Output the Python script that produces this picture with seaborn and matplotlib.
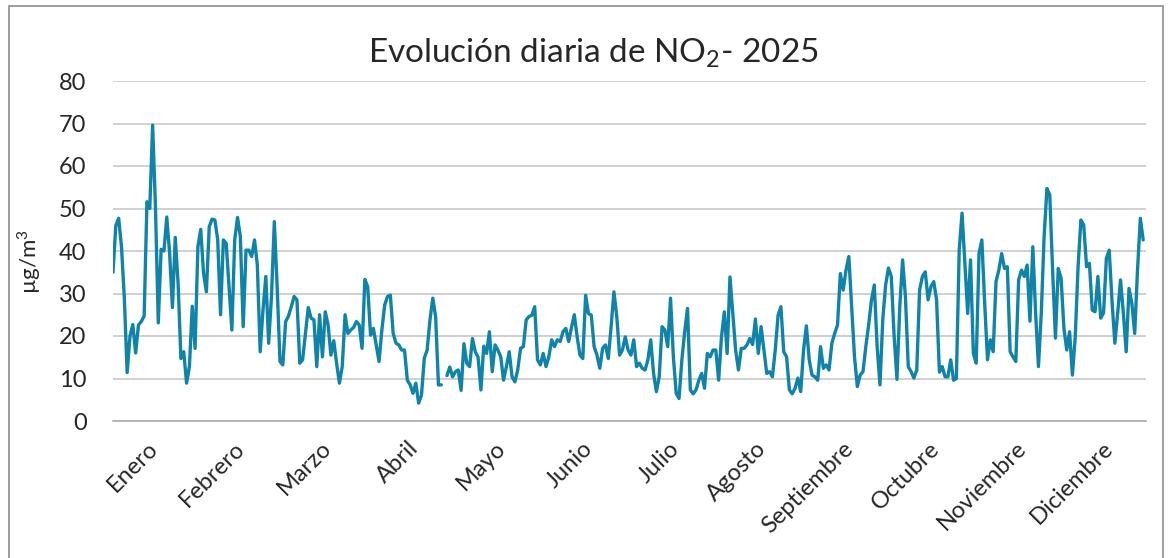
import matplotlib
matplotlib.use("Agg")
import matplotlib.pyplot as plt
import seaborn as sns
import pandas as pd
import numpy as np

# Valores diarios de NO2 (ug/m3), por mes
enero = [35, 46, 47.7, 41, 29, 11.4, 20, 22.7, 16, 22.6, 23.4, 24.7, 51.6, 50, 69.6, 50.4,
         23.1, 40.4, 40, 48, 39.5, 26.7, 43.2, 32.4, 14.7, 16.3, 8.9, 12.8, 27, 17.1, 41]
febrero = [45.1, 34.7, 30.4, 45.7, 47.5, 47.3, 42.6, 25, 42.6, 41.8, 31.6, 21.4, 42.6, 47.9,
           43.4, 22.2, 40.2, 40.2, 38.7, 42.6, 36.7, 16.3, 26.1, 34, 18.3, 29.3, 46.9, 31.6]
marzo = [14, 13.2, 23.4, 24.7, 26.9, 29.3, 28.5, 13.6, 14.4, 20.6, 26.7, 24.2, 23.8, 12.8, 25,
         15.1, 25.7, 22.6, 15.5, 18.9, 13.6, 8.9, 12.8, 25, 20.6, 21.4, 22, 23.4, 22.6, 17.1, 33.3]
abril = [31.6, 20.2, 21.8, 17.9, 14, 21.4, 27.3, 29.3, 29.6, 20.6, 18.3, 17.9, 16.7, 16.7, 9.6,
         8.5, 6.5, 8.9, 4.2, 6.1, 14.8, 16.7, 23.8, 28.9, 24.5, 8.5, 8.5, np.nan, 10.7, 12.7]
mayo = [10.4, 11.6, 12, 7.2, 18.2, 13.6, 12.8, 19.4, 16.3, 15, 7.3, 17.6, 15.9, 21, 11.6, 17.9,
        16.7, 15.1, 9.6, 12.8, 16.3, 10.4, 9.2, 12, 17.1, 17.5, 23.8, 24.6, 24.9, 26.9, 14.4]
junio = [13.2, 15.9, 12.8, 15.1, 19.1, 17.5, 19.1, 18.7, 21, 21.8, 18.7, 22, 25, 19.8, 15.5,
         14.7, 29.6, 25.3, 24.9, 17.5, 15.5, 12.4, 17.1, 17.9, 14.7, 22.2, 30.4, 24.6, 15.5, 16.7]
julio = [19.8, 16.7, 15.5, 19.1, 12.8, 13.6, 12.4, 12, 14.4, 19.1, 11.2, 6.9, 10.4, 22.2, 21.4,
         17.5, 28.9, 15.1, 6.5, 5.3, 14.4, 21, 26.5, 7.3, 6.4, 7.3, 9.6, 11.2, 7.7, 15.9, 15.1]
agosto = [16.7, 16.7, 9.6, 19.8, 25.7, 15.9, 33.9, 25.3, 16.7, 12, 17.1, 17.1, 17.9, 19.4, 18,
          24, 15.9, 22.2, 16.7, 11.2, 11.6, 10.4, 16.7, 24.9, 26.9, 16.3, 15.1, 7.3, 6.4, 7.7, 10.1]
septiembre = [6.9, 16.7, 22.4, 14.4, 10.8, 10.4, 9.6, 17.5, 12.4, 13.2, 12, 18.3, 20.6, 22.6,
              34.7, 30.8, 35.5, 38.7, 26.9, 15.1, 8.1, 10.8, 11.6, 17.5, 22.6, 28.5, 32, 17.5, 8.5, 24]
octubre = [32, 36, 34, 20, 9.8, 26.9, 37.9, 29.2, 12.8, 11.6, 10.1, 12, 30.8, 34, 35.1, 28.5,
           31.6, 32.8, 28.5, 11.5, 12.8, 10.4, 10.4, 14.4, 9.6, 10, 40.2, 48.9, 37.1, 25.3, 37.9]
noviembre = [15.9, 13.6, 39.4, 42.6, 27.7, 14.4, 19.1, 16.3, 32.8, 35.5, 39.4, 35.9, 36.3, 16.3,
             15.1, 14, 33.2, 35.5, 34, 36.7, 23.5, 41, 25.4, 12.8, 25.4, 43.4, 54.7, 53.2, 35.5, 19.5]
diciembre = [35.9, 33.6, 21.8, 16.7, 21, 10.8, 19.8, 36.3, 47.3, 46.1, 36.3, 37.1, 26.1, 25.7,
             34, 24.2, 25.4, 38.3, 40.2, 28.1, 18.3, 25.4, 33.2, 25.4, 16.3, 31.2, 27.7, 20.6,
             35.5, 47.7, 42.6]

meses = ["Enero", "Febrero", "Marzo", "Abril", "Mayo", "Junio", "Julio", "Agosto",
         "Septiembre", "Octubre", "Noviembre", "Diciembre"]

valores = (enero + febrero + marzo + abril + mayo + junio + julio + agosto
           + septiembre + octubre + noviembre + diciembre)
df = pd.DataFrame({"dia": np.arange(len(valores)), "no2": valores})
# tramos separados donde falta el dato, para que la linea quede cortada
df["tramo"] = df["no2"].isna().cumsum()
df = df.dropna()

sns.set_theme(style="white")
plt.rcParams["font.family"] = ["Lato", "DejaVu Sans"]
plt.rcParams["mathtext.fontset"] = "custom"
plt.rcParams["mathtext.rm"] = "Lato"

fig = plt.figure(figsize=(11.75, 5.58), dpi=100)
ax = fig.add_axes([113 / 1175, 1 - 421 / 558, 1033 / 1175, 340 / 558])

color_linea = "#0f84a8"
for _, datos in df.groupby("tramo"):
    sns.lineplot(x="dia", y="no2", data=datos, ax=ax, color=color_linea, linewidth=2.4)

ax.set_xlim(0, 365)
ax.set_ylim(0, 80)
ax.set_yticks(range(0, 81, 10))
ax.grid(axis="y", color="#c4c4c4", linewidth=1.1)
ax.set_axisbelow(True)

# marcas cada 31 dias; nombres de mes debajo de cada tramo
ax.set_xticks([31 * i for i in range(12)])
ax.set_xticklabels([])
ax.set_xticks([12 + 30.7 * i for i in range(12)], minor=True)
ax.set_xticklabels(meses, minor=True, rotation=45, ha="right", va="top",
                   rotation_mode="anchor", fontsize=17)
ax.tick_params(axis="x", which="major", length=7, width=1.1, color="#a6a6a6", direction="out")
ax.tick_params(axis="x", which="minor", length=0, pad=12)
ax.tick_params(axis="y", length=0, pad=19, labelsize=17)

for lado in ["left", "right", "top"]:
    ax.spines[lado].set_visible(False)
ax.spines["bottom"].set_color("#a6a6a6")
ax.spines["bottom"].set_linewidth(1.1)

ax.set_xlabel("")
ax.set_ylabel(r"µg/m$^\mathregular{3}$", fontsize=16)
ax.yaxis.set_label_coords(-0.068, 0.47)

fig.text(0.505, 0.905, r"Evolución diaria de NO$_\mathregular{2}$- 2025",
         ha="center", va="center", fontsize=24)

# marco gris del grafico
marco = plt.Rectangle((9 / 1175, -0.05), 1154 / 1175, 1.04, transform=fig.transFigure,
                      fill=False, edgecolor="#8c8c8c", linewidth=1.2)
fig.patches.append(marco)

fig.savefig("out.png", dpi=100)
plt.close()
